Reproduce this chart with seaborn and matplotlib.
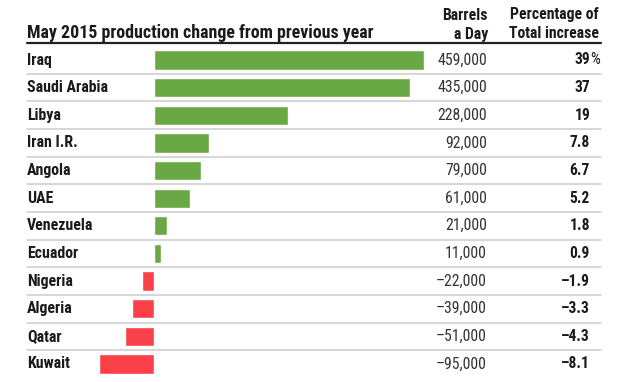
import numpy as np
import pandas as pd
import seaborn as sns
import matplotlib.pyplot as plt
from matplotlib import font_manager

countries = ["Iraq", "Saudi Arabia", "Libya", "Iran I.R.", "Angola", "UAE",
             "Venezuela", "Ecuador", "Nigeria", "Algeria", "Qatar", "Kuwait"]
barrels = [459000, 435000, 228000, 92000, 79000, 61000,
           21000, 11000, -22000, -39000, -51000, -95000]
pct = ["39", "37", "19", "7.8", "6.7", "5.2", "1.8", "0.9",
       "\u20131.9", "\u20133.3", "\u20134.3", "\u20138.1"]

sns.set_style("white")
installed = {f.name for f in font_manager.fontManager.ttflist}
family = "DejaVu Sans"
for cand in ["Liberation Sans Narrow", "Roboto Condensed", "DejaVu Sans Condensed",
             "Open Sans Condensed", "Noto Sans Condensed", "Roboto", "Liberation Sans"]:
    if cand in installed:
        family = cand
        break
plt.rcParams['font.family'] = [family, 'DejaVu Sans']

W, H = 628, 382
fig = plt.figure(figsize=(W / 100, H / 100), dpi=100)
ax = fig.add_axes([0, 0, 1, 1])

df = pd.DataFrame({"country": countries, "barrels": barrels})
df["sign"] = np.where(df["barrels"] >= 0, "pos", "neg")

sns.barplot(data=df, x="barrels", y="country", hue="sign",
            palette={"pos": "#6aa845", "neg": "#fa414a"}, saturation=1,
            orient="h", width=0.7, dodge=False, legend=False, ax=ax)

# pixel layout: zero line at x=154.5, 459k at x=424
scale = (424 - 154.5) / 459000
ax.set_xlim(-154.5 / scale, (W - 154.5) / scale)
row_h = (364 - 60) / 11
ax.set_ylim((H - 60) / row_h, -60 / row_h)
ax.axis("off")

def fx(px):
    return px / W

tr = ax.get_yaxis_transform()

for i in range(len(countries) - 1):
    ax.plot([fx(27), fx(601)], [i + 0.5, i + 0.5], color="#cccccc", lw=1.1,
            transform=tr, clip_on=False)
ax.plot([fx(27), fx(601)], [-0.62, -0.62], color="#222222", lw=1.6,
        transform=tr, clip_on=False)

for i, (c, v, p) in enumerate(zip(countries, barrels, pct)):
    ax.text(fx(27), i, c, transform=tr, ha="left", va="center",
            fontsize=11.4, fontweight="bold", color="#1a1a1a")
    lab = f"{abs(v):,}"
    if v < 0:
        lab = "\u2013" + lab
    ax.text(fx(487), i, lab, transform=tr, ha="right", va="center",
            fontsize=11.3, color="#333333")
    ax.text(fx(590), i, p, transform=tr, ha="right", va="center",
            fontsize=11.2, fontweight="bold", color="#1a1a1a")
    if i == 0:
        ax.text(fx(590.5), i, "%", transform=tr, ha="left", va="center",
                fontsize=11.2, color="#1a1a1a")

fig.text(fx(27), 1 - 33 / H, "May 2015 production change from previous year",
         ha="left", va="center", fontsize=12.9, fontweight="bold", color="#1a1a1a")
for xp, yp, s in [(488, 15, "Barrels"), (488, 34, "a Day"),
                  (599, 15, "Percentage of"), (599, 34, "Total increase")]:
    fig.text(fx(xp), 1 - yp / H, s, ha="right", va="center",
             fontsize=11.3, fontweight="bold", color="#1a1a1a")

fig.savefig("out.png", dpi=100)
